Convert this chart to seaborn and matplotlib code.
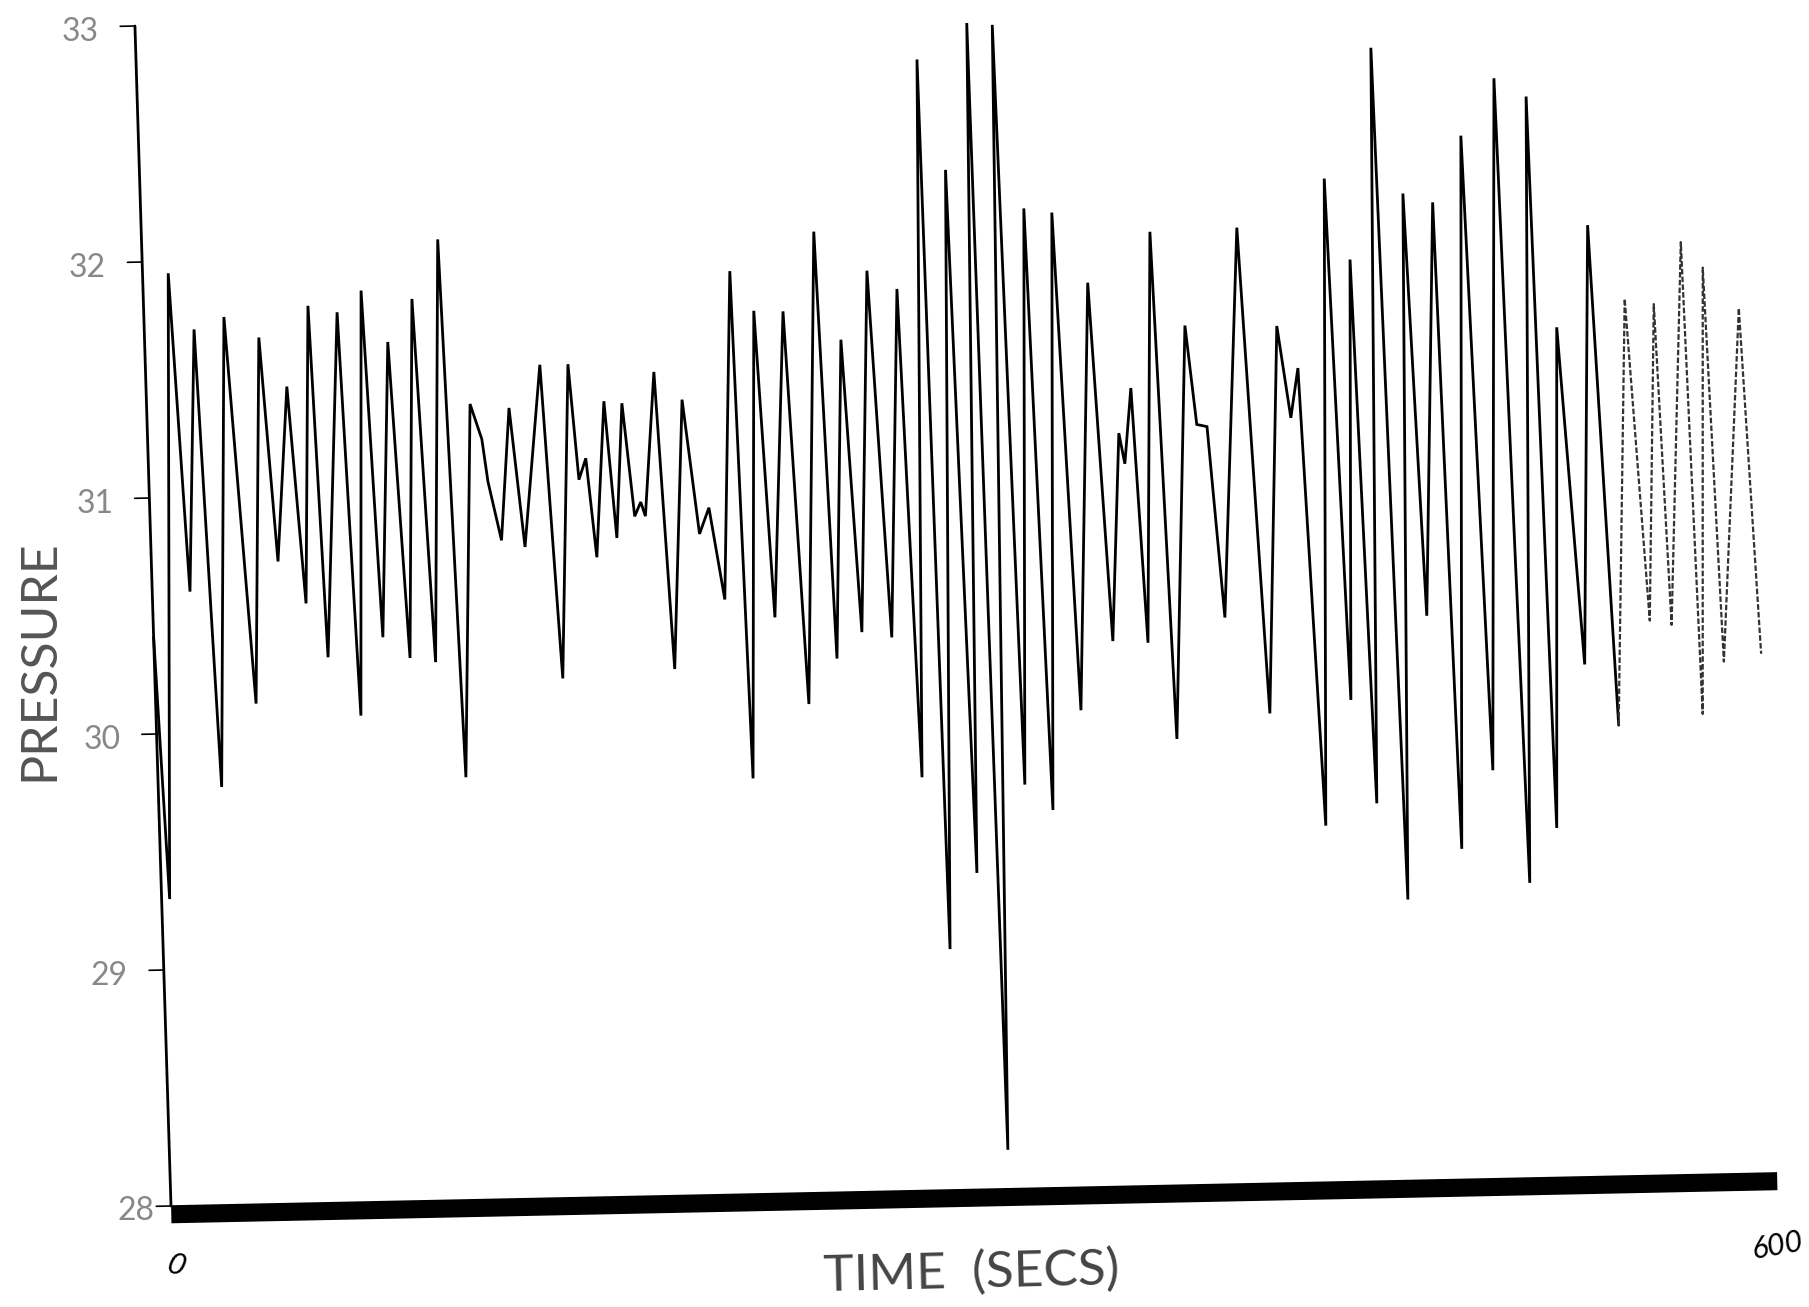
import matplotlib
matplotlib.use("Agg")
import matplotlib.pyplot as plt
import seaborn as sns
from matplotlib.transforms import Affine2D

time_s = [0, 3, 9.6, 14.1, 18.6, 23.7, 29.9, 37.5, 42.7, 47.3, 52.6, 57.3, 61.4, 64.9, 72.2, 76.5, 81.4, 85.6, 90.8, 95.5,
          100.3, 105, 110.6, 115, 120.8, 124.8, 126.6, 131, 135.3, 139.7, 147.3, 152.3, 157.8, 160.6, 163.4, 166.4, 170.8,
          174.1, 177.5, 181, 183.4, 185, 189.8, 194.2, 200, 205, 208.8, 213.7, 219.3, 222.2, 227.8, 232.2, 238.7, 243.9,
          251.1, 254.9, 260, 264.5, 270.5, 275.6, 281.5, 285.3, 291.6, 293.8, 301, 304.7, 310.6, 313.1, 320.1, 323.6,
          329.8, 333.8, 340.2, 345.4, 352.8, 358.1, 362.7, 364.6, 367.7, 371.2, 376.6, 380.9, 388.6, 391.9, 395.7, 400.2,
          409.1, 415.9, 422.9, 427.1, 430.3, 435.5, 442.3, 446.3, 451, 454.8, 461.2, 465.3, 471.5, 475.6, 482.5, 486,
          493.8, 498.5, 506.8, 511, 518.6, 521.7, 527.4, 534, 540.1, 546]
pressure = [30.41, 29.3, 31.95, 30.6, 31.71, 29.77, 31.76, 30.12, 31.67, 30.72, 31.46, 30.54, 31.80, 30.31, 31.77, 30.06, 31.86, 30.39, 31.64, 30.30,
            31.82, 30.28, 32.07, 29.79, 31.37, 31.22, 31.04, 30.79, 31.35, 30.76, 31.53, 30.20, 31.53, 31.04, 31.13, 30.71, 31.37,
            30.79, 31.36, 30.88, 30.94, 30.88, 31.49, 30.23, 31.37, 30.80, 30.91, 30.52, 31.91, 29.76, 31.74, 30.44, 31.735, 30.07,
            32.07, 30.26, 31.61, 30.37, 31.90, 30.345, 31.82, 29.75, 32.79, 29.02, 32.32, 29.34, 32.94, 28.165, 32.93, 29.71,
            32.15, 29.60, 32.13, 30.02, 31.83, 30.31, 31.19, 31.06, 31.38, 30.30, 32.04, 29.89, 31.64, 31.22, 31.21, 30.40,
            32.05, 29.99, 31.63, 31.24, 31.45, 29.51, 32.25, 30.04, 31.905, 29.60, 32.80, 29.19, 32.18, 30.39, 32.14, 29.40,
            32.42, 29.73, 32.66, 29.25, 32.58, 29.48, 31.60, 30.17, 32.03, 29.91]
faded_time_s = [546, 553.1, 558.8, 563.9, 566.9, 574.7, 577.5, 582.6, 586, 595.6, 600]
faded_pressure = [29.91, 31.715, 30.35, 31.69, 30.33, 31.95, 29.95, 31.84, 30.17, 31.665, 30.20]
y_ticks = [28, 29, 30, 31, 32, 33]
x_limits = [0, 600]
x_label = "TIME  (SECS)"
y_label = "PRESSURE"

sns.set_theme(style="white")
plt.rcParams["font.family"] = ["Lato", "DejaVu Sans"]

W, H = 1809, 1307
fig = plt.figure(figsize=(W / 100, H / 100), dpi=100, facecolor="white")
x0, y0 = 171, H - 1206
ax = fig.add_axes([x0 / W, y0 / H, 1606 / W, 1180 / H])
ax.set_xlim(0, 600)
ax.set_ylim(28, 33)

# the scanned page sits slightly rotated
tilt = Affine2D().translate(-x0, -y0).skew_deg(-1.75, 1.18).translate(x0, y0)
trans = ax.transData + tilt

sns.lineplot(x=time_s, y=pressure, ax=ax, color="black", lw=2.0, sort=False, estimator=None,
             transform=trans, clip_on=False, solid_joinstyle="miter")
sns.lineplot(x=faded_time_s, y=faded_pressure, ax=ax, color="#333333", lw=1.6, sort=False, estimator=None,
             transform=trans, clip_on=False, linestyle=(0, (2.5, 1)))

ax.plot([0, 0], [28, 33], color="black", lw=2.0, transform=trans, clip_on=False)
ax.plot(x_limits, [27.965, 27.965], color="black", lw=13, transform=trans, clip_on=False, solid_capstyle="butt")
for p in y_ticks:
    ax.plot([-5.5, 0], [p, p], color="black", lw=1.2, transform=trans, clip_on=False)
    ax.text(-13 if p == 28 else -20.5, p - 0.02, str(p), transform=trans, ha="center", va="center",
            fontsize=23, color="#888888", fontweight="normal", clip_on=False)

ax.set_xlim(0, 600)
ax.set_ylim(28, 33)
ax.axis("off")

fig.text(971 / W, 1 - 1273 / H, x_label, ha="center", va="center", fontsize=37, rotation=1.3,
         color="#444444", fontweight="normal")
fig.text(39 / W, 1 - 660 / H, y_label, ha="center", va="center", fontsize=36, rotation=90,
         color="#555555", fontweight="normal")
fig.text(176 / W, 1 - 1266 / H, "0", ha="center", va="center", fontsize=22, style="italic",
         rotation=-20, color="black")
fig.text(1777 / W, 1 - 1246 / H, "600", ha="center", va="center", fontsize=22, style="italic",
         rotation=10, color="black")

fig.savefig("out.png", dpi=100)
